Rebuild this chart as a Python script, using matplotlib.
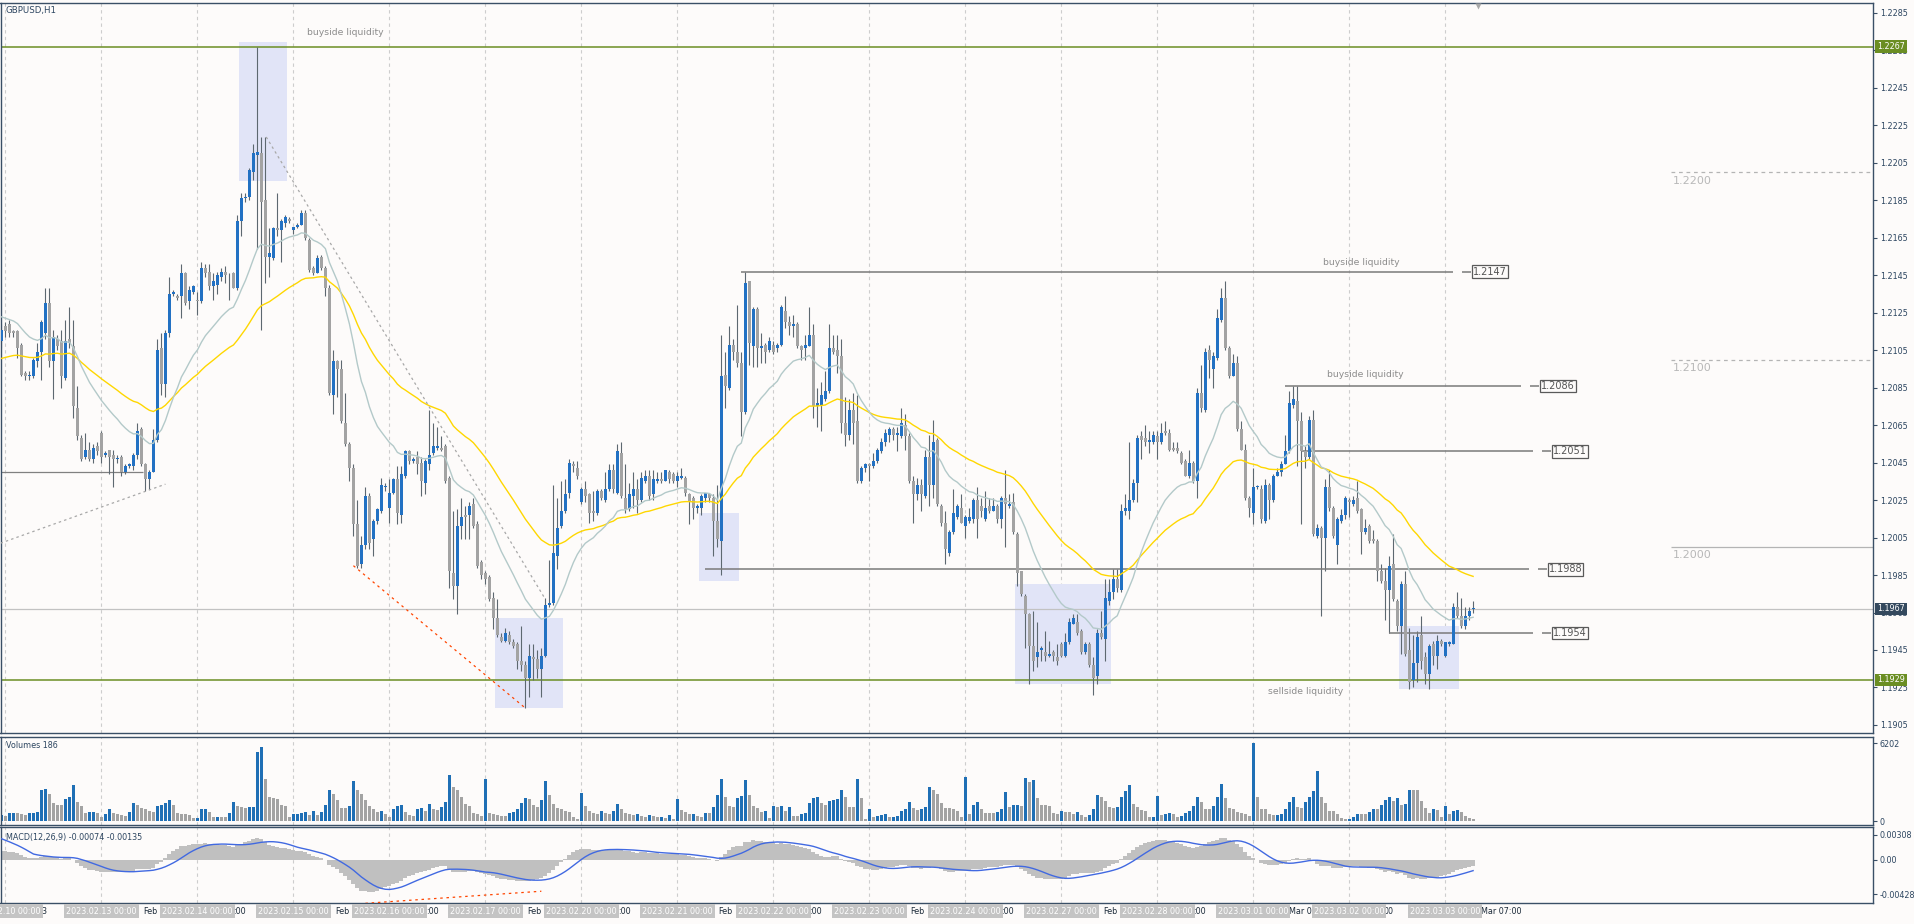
import numpy as np
import matplotlib
matplotlib.use("Agg")
import matplotlib.pyplot as plt
import matplotlib.transforms as mtransforms
from matplotlib.patches import Rectangle
from matplotlib.font_manager import FontProperties
from datetime import datetime, timedelta

# ---------------- data (prices in pips, 12116 -> 1.2116) ----------------
open_pips = [
    12110,12118,12119,12115,12115,12108,12093,12091,12091,12099,
    12104,12114,12130,12099,12111,12110,12090,12111,12107,12074,
    12058,12048,12052,12047,12054,12061,12049,12052,12049,12047,
    12048,12040,12043,12043,12049,12063,12044,12036,12040,12057,
    12106,12087,12114,12135,12134,12134,12146,12131,12136,12132,
    12131,12149,12147,12139,12140,12144,12147,12145,12146,12138,
    12174,12186,12187,12200,12209,12210,12185,12155,12154,12170,
    12169,12173,12175,12169,12171,12172,12178,12164,12149,12146,
    12155,12149,12138,12081,12099,12095,12066,12055,12042,12012,
    11991,12001,12027,12004,12014,12019,12032,12021,12029,12036,
    12017,12038,12051,12046,12048,12045,12034,12044,12050,12053,
    12053,12054,12037,11986,11979,12011,12017,12017,12023,12012,
    11992,11986,11984,11973,11962,11952,11950,11953,11949,11948,
    11939,11937,11930,11941,11940,11935,11942,11969,11970,11995,
    12011,12019,12029,12044,12042,12024,12031,12028,12019,12018,
    12030,12025,12031,12041,12029,12050,12026,12020,12027,12031,
    12025,12035,12038,12028,12035,12036,12035,12040,12039,12035,
    12037,12037,12028,12026,12021,12021,12026,12028,12026,12014,
    12003,12092,12085,12108,12104,12098,12072,12142,12107,12127,
    12106,12108,12105,12108,12106,12108,12126,12120,12118,12119,
    12107,12106,12107,12113,12075,12076,12079,12083,12106,12105,
    12102,12066,12060,12073,12067,12035,12042,12044,12043,12046,
    12051,12056,12060,12063,12060,12059,12065,12059,12035,12028,
    12033,12027,12048,12033,12057,12022,12013,11997,12008,12016,
    12021,12011,12014,12015,12025,12022,12015,12022,12019,12022,
    12015,12026,12022,12024,12007,11987,11974,11964,11947,11941,
    11945,11944,11942,11944,11941,11948,11942,11949,11959,11960,
    11955,11944,11948,11937,11931,11954,11951,11971,11976,11983,
    11977,12019,12019,12025,12034,12059,12058,12056,12056,12059,
    12056,12062,12061,12053,12053,12050,12046,12038,12045,12035,
    12082,12073,12105,12095,12101,12121,12133,12106,12091,12098,
    12063,12052,12026,12018,12032,12031,12014,12033,12025,12038,
    12040,12044,12051,12076,12078,12067,12051,12048,12068,12006,
    12010,12005,12032,12021,12001,12014,12017,12025,12023,12026,
    12020,12008,12011,12004,12003,11987,11982,11977,11991,11971,
    11958,11980,11945,11929,11938,11953,11941,11932,11948,11942,
    11950,11942,11948,11948,11968,11963,11958,11963,11967,
]
high_pips = [
    12119,12120,12121,12116,12116,12109,12094,12094,12101,12109,
    12121,12138,12138,12116,12113,12116,12121,12128,12121,12086,
    12060,12061,12056,12055,12056,12062,12051,12052,12052,12049,
    12049,12044,12045,12050,12066,12064,12045,12041,12063,12111,
    12114,12116,12144,12137,12135,12151,12147,12139,12140,12136,
    12152,12151,12151,12146,12147,12149,12150,12146,12147,12177,
    12189,12189,12202,12215,12267,12219,12219,12170,12171,12189,
    12175,12177,12176,12171,12173,12180,12180,12165,12150,12156,
    12156,12150,12140,12105,12100,12100,12082,12056,12044,12025,
    12006,12032,12029,12015,12021,12037,12034,12036,12037,12043,
    12043,12052,12052,12048,12051,12048,12047,12073,12066,12064,
    12059,12055,12038,12019,12020,12026,12022,12024,12026,12014,
    11993,11987,11985,11976,11972,11954,11957,11955,11951,11949,
    11958,11939,11948,11948,11945,11946,11973,11993,12033,12026,
    12035,12036,12047,12046,12046,12032,12035,12029,12030,12031,
    12031,12040,12044,12044,12055,12056,12044,12034,12040,12036,
    12040,12041,12041,12041,12040,12040,12041,12041,12040,12040,
    12042,12038,12029,12027,12023,12028,12029,12029,12028,12033,
    12113,12104,12118,12111,12129,12104,12147,12142,12128,12128,
    12114,12109,12112,12110,12109,12129,12134,12123,12124,12120,
    12108,12113,12128,12119,12085,12088,12094,12119,12113,12113,
    12111,12080,12079,12082,12081,12043,12045,12045,12050,12053,
    12058,12063,12064,12064,12064,12074,12071,12061,12038,12037,
    12036,12052,12060,12068,12058,12023,12019,12009,12031,12023,
    12028,12017,12021,12026,12032,12026,12030,12026,12026,12023,
    12027,12041,12028,12029,12008,11987,11975,11965,11966,11960,
    11947,11955,11950,11945,11948,11949,11954,11962,11964,11964,
    11956,11949,11949,11941,11956,11966,11983,11983,11988,11988,
    12023,12028,12056,12036,12060,12062,12065,12062,12062,12062,
    12066,12067,12063,12056,12056,12051,12047,12052,12046,12085,
    12097,12106,12108,12104,12127,12138,12142,12107,12103,12102,
    12067,12055,12027,12042,12033,12033,12036,12034,12039,12042,
    12046,12060,12083,12086,12086,12072,12054,12070,12073,12012,
    12011,12036,12041,12022,12016,12020,12027,12026,12027,12035,
    12021,12015,12012,12009,12004,11991,11989,11995,12007,11972,
    11982,11987,11957,11953,11955,11963,11944,11948,11950,11953,
    11951,11949,11950,11970,11976,11973,11968,11968,11971,
]
low_pips = [
    12106,12112,12112,12112,12101,12091,12089,12089,12090,12096,
    12089,12111,12096,12079,12105,12085,12089,12106,12069,12057,
    12046,12047,12046,12045,12049,12045,12048,12039,12032,12045,
    12038,12039,12042,12041,12047,12043,12030,12031,12040,12056,
    12081,12080,12112,12134,12132,12122,12129,12127,12135,12124,
    12130,12144,12137,12132,12135,12142,12141,12132,12138,12137,
    12166,12184,12185,12196,12159,12116,12141,12144,12153,12166,
    12152,12171,12173,12167,12170,12172,12164,12147,12145,12146,
    12148,12134,12081,12071,12080,12066,12054,12035,12006,11989,
    11989,11999,11999,11995,12012,12018,12030,12013,12028,12012,
    12013,12037,12044,12045,12039,12027,12028,12041,12049,12052,
    12051,12034,11978,11972,11964,12004,12004,12004,12010,11989,
    11983,11980,11971,11956,11952,11949,11949,11948,11946,11935,
    11934,11914,11920,11929,11930,11920,11941,11968,11969,11988,
    12010,12018,12026,12040,12036,12023,12024,12013,12014,12017,
    12025,12024,12030,12029,12028,12026,12018,12019,12021,12018,
    12024,12034,12025,12025,12034,12034,12035,12034,12034,12032,
    12036,12027,12012,12015,12018,12017,12024,12024,11995,12000,
    11985,12074,12084,12100,12096,12059,12071,12097,12096,12096,
    12098,12098,12104,12103,12104,12107,12117,12113,12112,12106,
    12100,12100,12107,12069,12064,12062,12078,12082,12103,12093,
    12061,12054,12057,12055,12034,12034,12040,12035,12042,12045,
    12050,12054,12056,12057,12051,12058,12052,12034,12013,12025,
    12019,12026,12022,12026,12022,12011,11991,11995,12007,12015,
    12013,12005,12013,12013,12005,12016,12014,12018,12019,12013,
    12010,12000,12021,12007,11979,11974,11946,11927,11934,11936,
    11939,11939,11941,11939,11937,11941,11941,11948,11959,11953,
    11943,11943,11936,11921,11927,11951,11939,11969,11972,11976,
    11976,12017,12015,12024,12024,12047,12054,12050,12055,12047,
    12055,12060,12051,12051,12050,12044,12038,12037,12034,12026,
    12072,12072,12090,12085,12100,12120,12105,12090,12091,12062,
    12052,12025,12016,12012,12031,12013,12013,12015,12024,12038,
    12038,12044,12050,12074,12043,12012,12042,12047,12006,12005,
    11963,11987,12019,12005,11991,12013,12015,12016,12022,12018,
    11996,12007,12002,12002,11982,11981,11961,11954,11971,11955,
    11943,11942,11924,11925,11928,11935,11927,11924,11937,11935,
    11947,11941,11947,11948,11962,11957,11956,11961,11965,
]
close_pips = [
    12116,12115,12114,12114,12106,12092,12091,12092,12100,12104,
    12120,12130,12099,12112,12107,12091,12110,12109,12075,12059,
    12047,12052,12047,12053,12051,12048,12050,12048,12047,12047,
    12040,12043,12044,12049,12062,12044,12036,12040,12057,12105,
    12087,12114,12135,12136,12133,12146,12130,12137,12139,12131,
    12149,12146,12139,12142,12145,12147,12145,12145,12138,12174,
    12186,12187,12201,12210,12211,12184,12155,12157,12170,12169,
    12174,12176,12174,12171,12172,12178,12165,12148,12146,12154,
    12149,12138,12082,12099,12095,12067,12055,12042,12012,11990,
    12001,12027,12002,12014,12020,12033,12032,12029,12036,12018,
    12039,12051,12046,12047,12044,12035,12046,12049,12054,12054,
    12052,12035,11987,11979,12011,12016,12016,12022,12011,11990,
    11985,11983,11972,11962,11953,11950,11954,11949,11947,11939,
    11937,11930,11942,11940,11935,11942,11969,11970,11997,12010,
    12019,12028,12045,12043,12038,12031,12027,12018,12018,12030,
    12026,12031,12041,12031,12051,12027,12020,12028,12031,12025,
    12037,12038,12027,12036,12036,12035,12041,12036,12035,12038,
    12038,12029,12024,12021,12022,12027,12029,12026,12014,12004,
    12091,12086,12108,12104,12098,12072,12141,12109,12127,12106,
    12107,12104,12110,12104,12108,12128,12120,12118,12119,12107,
    12105,12108,12113,12075,12077,12081,12083,12106,12104,12102,
    12066,12060,12073,12066,12035,12042,12044,12043,12046,12052,
    12056,12061,12063,12060,12061,12066,12059,12035,12028,12033,
    12028,12048,12033,12056,12023,12013,11999,12008,12018,12022,
    12013,12016,12016,12025,12015,12019,12021,12019,12022,12015,
    12026,12023,12023,12008,11986,11975,11964,11947,11939,11944,
    11946,11942,11943,11942,11939,11942,11949,11960,11962,11954,
    11944,11948,11937,11930,11954,11952,11973,11976,11983,11978,
    12019,12021,12025,12034,12058,12057,12056,12057,12060,12056,
    12061,12061,12052,12052,12051,12045,12038,12045,12035,12082,
    12074,12104,12100,12102,12122,12133,12106,12091,12098,12063,
    12052,12026,12021,12032,12032,12015,12033,12025,12038,12040,
    12044,12051,12077,12079,12067,12051,12048,12068,12007,12010,
    12005,12032,12021,12006,12015,12017,12026,12024,12025,12019,
    12008,12010,12003,12003,11987,11982,11977,11990,11972,11958,
    11980,11943,11928,11938,11952,11939,11932,11947,11942,11950,
    11948,11949,11949,11968,11963,11958,11963,11966,11967,
]
volumes = [
    500,
    430,630,680,630,600,480,630,680,730,2500,2520,2190,1440,1260,1250,1740,1940,2870,1510,1180,680,700,750,650,
    300,600,1000,680,600,480,430,760,1440,1260,1060,930,810,730,1180,1260,1440,1690,1310,680,600,550,500,230,
    250,980,990,730,350,360,340,330,680,1560,1180,1110,1060,1110,1120,5470,5900,3380,1940,1810,1740,1310,1200,300,
    554,600,680,760,500,810,480,730,1300,2440,2120,1690,1060,1010,1180,3175,2440,2190,1690,1180,930,730,800,550,
    302,1008,1184,1310,731,479,428,932,1058,806,1400,1000,900,1100,1500,3629,2696,2444,1890,1361,1184,680,554,400,
    3326,680,554,504,428,400,680,756,1008,1436,1814,1740,1260,1109,1700,3175,2066,1361,1058,1008,806,700,302,176,
    2268,1184,806,680,554,806,680,554,806,1360,932,680,554,480,554,430,350,480,400,300,350,250,504,200,
    1740,900,756,554,600,450,302,680,680,1109,2117,3326,1890,1184,1134,1814,2000,3250,2117,1184,1058,756,806,250,
    1184,1109,1184,806,1109,428,428,605,680,1436,1814,1890,1436,1260,1613,1688,1764,2444,1890,1109,1109,3377,1814,176,
    1008,302,428,479,554,302,353,428,806,1008,1562,1058,857,932,1100,2696,2444,2192,1436,1058,1058,1008,806,302,
    3528,554,1260,1562,1008,680,680,680,756,1008,2318,1109,1260,1310,1184,3452,3125,3301,1814,1310,1260,1184,680,554,
    806,731,731,554,731,479,302,479,932,2066,1940,1638,1109,1058,1109,1890,2369,2873,1361,1109,857,806,302,350,
    2016,479,605,680,554,302,428,680,806,1184,1890,1562,1008,1008,1184,1890,2948,1814,1058,932,756,680,554,428,
    6202,1940,932,932,554,479,504,554,932,1487,1890,1109,1058,1512,1890,2394,4007,1940,1436,806,806,554,227,176,
    200,302,605,554,554,756,1008,932,1260,1688,1940,1613,1814,1260,1361,2495,2444,2444,1613,1058,680,1008,857,353,
    1184,600,806,882,700,428,250,186,
]
trading_days = [datetime(2023, 2, d) for d in (10, 13, 14, 15, 16, 17, 20, 21, 22, 23, 24, 27, 28)] + \
               [datetime(2023, 3, d) for d in (1, 2, 3)]

# chart objects
green_levels = [1.2267, 1.1929]
bid_price = 1.1967
liq_levels = [1.2147, 1.2086, 1.2051, 1.1988, 1.1954]
liq_start = [185, 321, 325, 176, 347]
liq_end = [363, 380, 383, 382, 383]
round_levels = [1.2200, 1.2100, 1.2000, 1.1900]
zones = [(60, 71, 1.21955, 1.22695), (124, 140, 1.1914, 1.1962), (175, 184, 1.1982, 1.2018),
         (254, 277, 1.1927, 1.1980), (350, 364, 1.1924, 1.1958)]
trend_grey = [((66.2, 1.22188), (135.6, 1.19735)), ((-0.25, 1.20020), (41, 1.20335))]
trend_red = [((88, 1.1990), (131, 1.1914))]
macd_red = [((91, -0.0054), (135, -0.0039))]
macd_title = 'MACD(12,26,9) -0.00074 -0.00135'

n = len(close_pips)
assert len(open_pips) == len(high_pips) == len(low_pips) == len(volumes) == n

o = np.array(open_pips) / 1e4
h = np.array(high_pips) / 1e4
l = np.array(low_pips) / 1e4
c = np.array(close_pips) / 1e4
v = np.array(volumes)
idx = np.arange(n)

times = [datetime(2023, 2, 9, 23)] + [d + timedelta(hours=k) for d in trading_days for k in range(24)]
times = times[:n]
day_idx = [i for i, t in enumerate(times) if t.hour == 0]


def ema(vals, period, seed):
    k = 2.0 / (period + 1)
    out, prev = [], seed
    for x in vals:
        prev = prev + k * (x - prev)
        out.append(prev)
    return np.array(out)


ma_fast = ema(c, 20, 1.21235)
ma_slow = ema(c, 50, 1.2100)
macd = ema(c, 12, 1.2112) - ema(c, 26, 1.2100)
padded = np.concatenate([np.full(8, 0.0028), macd])
signal = np.array([padded[i:i + 9].mean() for i in range(n)])

# ---------------- style ----------------
plt.rcParams['font.family'] = ['DejaVu Sans']
W, H = 1915, 924
BG = '#fdfbfa'
AXC = '#3a4f66'
TXT = '#2c4560'
BLUE = '#2271c3'
GREY = '#a3a3a3'
WICK = '#5d6870'
GREEN = '#6b8e23'
FS = 5.8

fig = plt.figure(figsize=(W / 100, H / 100), dpi=100, facecolor=BG)


def panel(top, bottom):
    return fig.add_axes([0.5 / W, (H - bottom) / H, 1872.5 / W, (bottom - top) / H], facecolor=BG)


ax = panel(3, 733)
axv = panel(737, 825)
axm = panel(827, 903)

for a in (ax, axv, axm):
    a.set_xlim(-0.25, 468)
    for s in a.spines.values():
        s.set_color(AXC)
        s.set_linewidth(1.0)
    a.yaxis.tick_right()
    a.tick_params(axis='y', direction='out', length=3, width=0.8, pad=2,
                  labelsize=FS, labelcolor=TXT, color=AXC)
    a.tick_params(axis='x', bottom=False, labelbottom=False)
    for d in day_idx:
        a.axvline(d, color='#cdcdcd', lw=0.8, ls=(0, (3, 3)), zorder=0.5)

# ---------------- main price panel ----------------
ax.set_ylim(1.19007, 1.22903)
yt = [round(1.1905 + 0.002 * k, 4) for k in range(20)]
ax.set_yticks(yt)
ax.set_yticklabels([f'{t:.4f}' for t in yt])

for (i0, i1, lo, hi) in zones:
    ax.add_patch(Rectangle((i0 - 0.5, lo), i1 - i0 + 1, hi - lo, fc='#e1e4f7', ec='none', zorder=1))

for lv in green_levels:
    ax.axhline(lv, color=GREEN, lw=1.1, zorder=1.6)
ax.axhline(bid_price, color='#c2c2c2', lw=0.9, zorder=1.5)
ax.hlines(1.2040, -0.25, 35.5, color='#808080', lw=0.9, zorder=1.6)

for lv in round_levels:
    ls = '-' if abs(lv - 1.2) < 1e-9 else (0, (3, 3))
    ax.hlines(lv, 417.5, 468, color='#b4b4b4', lw=0.9, ls=ls, zorder=1.5)
    ax.annotate(f'{lv:.4f}', (418, lv), xytext=(0, -6), textcoords='offset points',
                ha='left', va='center', fontsize=8.0, color='#b8b8b8', annotation_clip=False)

up = c >= o
lo_w = np.minimum(l, np.minimum(o, c))
hi_w = np.maximum(h, np.maximum(o, c))
ax.vlines(idx, lo_w, hi_w, color=WICK, lw=0.8, zorder=2)
ax.bar(idx, np.maximum(np.abs(c - o), 0.00004), bottom=np.minimum(o, c), width=0.74,
       color=np.where(up, BLUE, GREY), lw=0, zorder=3)

ax.plot(idx, ma_slow, color='#ffd700', lw=1.0, zorder=4)
ax.plot(idx, ma_fast, color='#b3c9c9', lw=1.0, zorder=4)

for (p0, p1) in trend_grey:
    ax.plot([p0[0], p1[0]], [p0[1], p1[1]], color='#a8a8a8', lw=0.9, ls=(0, (2, 2.5)), zorder=4.5)
for (p0, p1) in trend_red:
    ax.plot([p0[0], p1[0]], [p0[1], p1[1]], color='#ff4500', lw=0.9, ls=(0, (2, 3)), zorder=4.5)

for lv, s0, s1 in zip(liq_levels, liq_start, liq_end):
    ax.hlines(lv, s0, s1, color='#7a7a7a', lw=1.1, zorder=2.5)
    ax.hlines(lv, s1 + 2.2, s1 + 4.5, color='#7a7a7a', lw=1.1, zorder=2.5)
    ax.text(s1 + 4.9, lv, f'{lv:.4f}', ha='left', va='center', fontsize=7.0, color='#555555', zorder=5,
            bbox=dict(boxstyle='square,pad=0.12', fc=BG, ec='#5a5a5a', lw=0.9))

liq_text = [(86, 1.2267, 10.5, 'buyside liquidity'), (340, 1.2147, 6.8, 'buyside liquidity'),
            (341, 1.2086, 7.9, 'buyside liquidity'), (326, 1.1929, -8.4, 'sellside liquidity')]
for xi, lv, dy, s in liq_text:
    ax.annotate(s, (xi, lv), xytext=(0, dy), textcoords='offset points', ha='center', va='center',
                fontsize=6.7, color='#8c8c8c', zorder=5)

ax.text(0.0027, 0.9904, 'GBPUSD,H1', transform=ax.transAxes, ha='left', va='center',
        fontsize=6.2, color=TXT, zorder=6)
ax.plot([369.3], [1.22885], marker='v', ms=5, color='#a8a8a8', mec='none', clip_on=False, zorder=6)

ytr = mtransforms.offset_copy(mtransforms.blended_transform_factory(ax.transAxes, ax.transData),
                              fig=fig, x=4, y=0, units='dots')
for lv, col in ((1.2267, GREEN), (1.1929, GREEN), (bid_price, '#34495e')):
    ax.text(1.0, lv, f'{lv:.4f}', transform=ytr, ha='left', va='center', fontsize=FS, color='white',
            clip_on=False, zorder=7, bbox=dict(boxstyle='square,pad=0.22', fc=col, ec='none'))

# ---------------- volumes ----------------
vol_up = np.concatenate([[True], v[1:] > v[:-1]])
axv.bar(idx, v, width=0.75, color=np.where(vol_up, '#1f6fb5', GREY), lw=0, zorder=2)
axv.set_ylim(-300, 6680)
axv.set_yticks([0, 6202])
axv.set_yticklabels(['0', '6202'])
axv.text(0.0027, 0.898, f'Volumes {v[-1]}', transform=axv.transAxes, ha='left', va='center',
         fontsize=FS, color=TXT)

# ---------------- MACD ----------------
axm.bar(idx, macd, width=1.0, color='#c0c0c0', lw=0, zorder=2)
axm.plot(idx, signal, color='#4169e1', lw=1.0, zorder=3)
for (p0, p1) in macd_red:
    axm.plot([p0[0], p1[0]], [p0[1], p1[1]], color='#ff4500', lw=0.9, ls=(0, (2, 3)), zorder=4)
axm.set_ylim(-0.00536, 0.00407)
axm.set_yticks([-0.00428, 0.0, 0.00308])
axm.set_yticklabels(['-0.00428', '0.00', '0.00308'])
axm.text(0.0027, 0.868, macd_title, transform=axm.transAxes,
         ha='left', va='center', fontsize=FS, color=TXT)

axm.set_xticks(list(range(16, n, 16)))
axm.tick_params(axis='x', bottom=True, length=4, width=0.8, direction='out', color=AXC, labelbottom=False)

# ---------------- time scale ----------------
tx = mtransforms.blended_transform_factory(axm.transData, fig.transFigure)
ty = 1 - 911 / H
box_texts = []
for i in day_idx:
    box_texts.append(axm.text(i, ty, times[i].strftime('%Y.%m.%d %H:%M'), transform=tx, ha='center',
                              va='center', fontsize=FS, color='white', clip_on=False, zorder=6,
                              bbox=dict(boxstyle='square,pad=0.25', fc='#c4c4c4', ec='none')))

# the regular time labels sit under the date boxes; only the uncovered characters are drawn
fig.canvas.draw()
rend = fig.canvas.get_renderer()
spans = []
for tb in box_texts:
    bb = tb.get_bbox_patch().get_window_extent(rend)
    spans.append((bb.x0, bb.x1))
fp = FontProperties(family='DejaVu Sans', size=FS)


def text_w(s):
    if not s:
        return 0.0
    return rend.get_text_width_height_descent(s, fp, ismath=False)[0]


time_labels = [(0.0, '9 Feb 2023')] + [(i + 0.2, f'{times[i].day} {times[i]:%b %H:%M}') for i in range(16, n, 16)]
for xd, s in time_labels:
    x0 = axm.transData.transform((xd, 0))[0]
    vis = []
    for k in range(len(s)):
        mid = x0 + (text_w(s[:k]) + text_w(s[:k + 1])) / 2
        vis.append(not any(a0 <= mid <= a1 for a0, a1 in spans) and mid < fig.bbox.width)
    k = 0
    while k < len(s):
        if vis[k] and s[k] != ' ':
            j = k
            while j < len(s) and vis[j]:
                j += 1
            frag = s[k:j].rstrip()
            axm.annotate(frag, (xd, ty), xycoords=tx, xytext=(text_w(s[:k]), 0), textcoords='offset pixels',
                         ha='left', va='center', fontsize=FS, color='#1c2b3a', annotation_clip=False, zorder=5)
            k = j
        else:
            k += 1

fig.savefig('out.png', dpi=100, facecolor=BG)
